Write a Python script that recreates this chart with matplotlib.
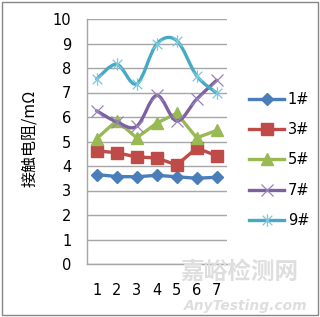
import matplotlib
matplotlib.use("Agg")
import matplotlib.pyplot as plt
from matplotlib.path import Path
from matplotlib.patches import PathPatch, Rectangle
from matplotlib.lines import Line2D
import numpy as np

plt.rcParams['font.family'] = ['DejaVu Sans']

categories = [1, 2, 3, 4, 5, 6, 7]
s1 = [3.65, 3.57, 3.56, 3.62, 3.56, 3.50, 3.54]
s3 = [4.62, 4.54, 4.37, 4.33, 4.04, 4.73, 4.42]
s5 = [5.12, 5.85, 5.15, 5.75, 6.15, 5.15, 5.45]
s7 = [6.25, 5.80, 5.62, 6.88, 5.84, 6.73, 7.50]
s9 = [7.55, 8.15, 7.35, 8.98, 9.12, 7.68, 6.98]
series_labels = ['1#', '3#', '5#', '7#', '9#']
yticks = list(range(0, 11))

W, H = 320, 317
fig = plt.figure(figsize=(W / 100, H / 100), dpi=100)
ax = fig.add_axes([86.7 / W, 1 - 264 / H, 140 / W, 245 / H])

c1, c3, c5, c7, c9 = '#4A7EBB', '#BE4B48', '#98B954', '#7D60A0', '#46AAC5'
m7c, m9c = '#9A83BB', '#7CC8DC'
lw = 2.4

star = Path([(-1, -1), (1, 1), (-1, 1), (1, -1), (0, -1.3), (0, 1.3)],
            [Path.MOVETO, Path.LINETO, Path.MOVETO, Path.LINETO, Path.MOVETO, Path.LINETO])


def smooth_path(xs, ys):
    xs = np.asarray(xs, float)
    ys = np.asarray(ys, float)
    pts = np.column_stack([xs, ys])
    verts = [pts[0]]
    codes = [Path.MOVETO]
    n = len(pts)
    for i in range(n - 1):
        p0 = pts[i - 1] if i > 0 else pts[i]
        p1 = pts[i]
        p2 = pts[i + 1]
        p3 = pts[i + 2] if i + 2 < n else pts[i + 1]
        cA = p1 + (p2 - p0) / 6.0
        cB = p2 - (p3 - p1) / 6.0
        verts += [cA, cB, p2]
        codes += [Path.CURVE4] * 3
    return Path(verts, codes)


ax.plot(categories, s1, color=c1, lw=lw, marker='D', ms=6.5, mfc=c1, mec=c1, zorder=3)
ax.plot(categories, s3, color=c3, lw=lw, marker='s', ms=8, mfc=c3, mec=c3, zorder=3)
ax.plot(categories, s5, color=c5, lw=lw, marker='^', ms=8.5, mfc=c5, mec=c5, zorder=3)

for ys, col, mcol, mk, ms in [(s7, c7, m7c, 'x', 8), (s9, c9, m9c, star, 9)]:
    ax.add_patch(PathPatch(smooth_path(categories, ys), facecolor='none', edgecolor=col,
                           lw=lw, zorder=4, capstyle='round', joinstyle='round'))
    ax.plot(categories, ys, ls='none', marker=mk, ms=ms, mec=mcol, mew=0.9, zorder=5)

ax.set_xlim(0.5, 7.5)
ax.set_ylim(0, 10)
ax.set_yticks(yticks)
ax.set_xticks(categories)
ax.set_xticklabels([str(c) for c in categories])
ax.yaxis.grid(True, color='#A6A6A6', lw=1.0)
ax.set_axisbelow(True)
ax.tick_params(axis='both', length=0, labelsize=10.5, colors='#000000')
ax.tick_params(axis='x', pad=14)
ax.tick_params(axis='y', pad=11)
for side in ['top', 'right']:
    ax.spines[side].set_visible(False)
for side in ['left', 'bottom']:
    ax.spines[side].set_color('#A6A6A6')
    ax.spines[side].set_linewidth(1.0)

fig.text(30 / W, 1 - 138 / H, '接触电阻/mΩ', rotation=90, ha='center', va='center',
         fontsize=11.5, fontweight='medium', family=['Noto Sans CJK SC', 'DejaVu Sans'])

handles = [
    Line2D([], [], color=c1, lw=lw, marker='D', ms=6.5, mfc=c1, mec=c1),
    Line2D([], [], color=c3, lw=lw, marker='s', ms=8, mfc=c3, mec=c3),
    Line2D([], [], color=c5, lw=lw, marker='^', ms=8.5, mfc=c5, mec=c5),
    Line2D([], [], color=c7, lw=lw, marker='x', ms=8, mec=m7c, mew=0.9),
    Line2D([], [], color=c9, lw=lw, marker=star, ms=9, mec=m9c, mew=0.9),
]
fig.legend(handles, series_labels, loc='center left', bbox_to_anchor=(249 / W, 1 - 160 / H),
           frameon=False, fontsize=10.5, handlelength=2.4, handletextpad=0.25,
           labelspacing=1.05, borderpad=0, borderaxespad=0)

# watermark
fig.text(239 / W, 1 - 272 / H, '嘉峪检测网', ha='center', va='center', fontsize=17,
         color='#DEDEDE', fontweight='bold', family=['Noto Sans CJK SC', 'DejaVu Sans'], zorder=10)
fig.text(246 / W, 1 - 306 / H, 'AnyTesting.com', ha='center', va='center', fontsize=10,
         color='#DEDEDE', style='italic', fontweight='bold', zorder=10)

fig.patches.append(Rectangle((1.5 / W, 2.5 / H), 316.5 / W, 313 / H, transform=fig.transFigure,
                             fill=False, edgecolor='#868686', lw=1.0))

fig.savefig('out.png', dpi=100)
